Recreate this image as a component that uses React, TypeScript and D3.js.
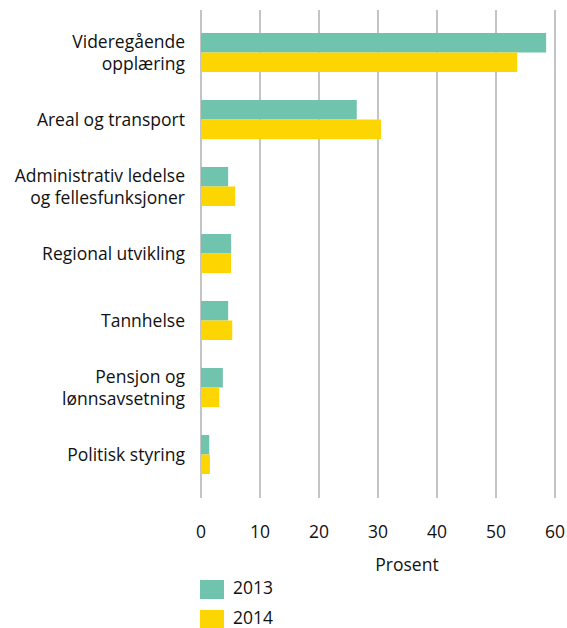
import { useEffect, useRef } from 'react'
import * as d3 from 'd3'

const categories = [
	['Videregående', 'opplæring'],
	['Areal og transport'],
	['Administrativ ledelse', 'og fellesfunksjoner'],
	['Regional utvikling'],
	['Tannhelse'],
	['Pensjon og', 'lønnsavsetning'],
	['Politisk styring'],
]
const years = ['2013', '2014']
const values2013 = [58.5, 26.4, 4.6, 5.1, 4.6, 3.7, 1.4]
const values2014 = [53.6, 30.5, 5.8, 5.1, 5.3, 3.1, 1.5]
const xTicks = [0, 10, 20, 30, 40, 50, 60]
const colors = ['#70c3ad', '#fdd500']

const App = () => {
	const svgRef = useRef(null)

	useEffect(() => {
		const width = 567
		const height = 628
		const font = '"Open Sans", sans-serif'
		const fs = 17.5

		d3.select(svgRef.current).selectAll('*').remove()
		const svg = d3.select(svgRef.current).attr('width', width).attr('height', height)

		const keys = categories.map((c) => c.join(' '))
		const x = d3.scaleLinear().domain([0, 60]).range([201, 555])
		const y = d3.scaleBand().domain(keys).range([19, 488]).paddingInner(0.418).paddingOuter(0.209)
		const sub = d3.scaleBand().domain(years).range([0, y.bandwidth()])

		// Grid lines
		svg
			.append('g')
			.selectAll('line')
			.data(xTicks)
			.enter()
			.append('line')
			.attr('x1', (d) => x(d))
			.attr('x2', (d) => x(d))
			.attr('y1', 10)
			.attr('y2', 498)
			.attr('stroke', '#c4c4c4')
			.attr('stroke-width', 2)

		// Bars
		const series = [values2013, values2014]
		series.forEach((vals, si) => {
			svg
				.append('g')
				.selectAll('rect')
				.data(vals)
				.enter()
				.append('rect')
				.attr('x', x(0))
				.attr('y', (d, i) => y(keys[i]) + sub(years[si]))
				.attr('width', (d) => x(d) - x(0))
				.attr('height', sub.bandwidth())
				.attr('fill', colors[si])
		})

		// Category labels
		const labels = svg
			.append('g')
			.selectAll('text')
			.data(categories)
			.enter()
			.append('text')
			.attr('text-anchor', 'end')
			.attr('font-family', font)
			.attr('font-size', fs)
			.attr('fill', '#111')
		labels
			.selectAll('tspan')
			.data((d, i) => d.map((line, j) => ({ line, j, n: d.length, i })))
			.enter()
			.append('tspan')
			.attr('x', 185)
			.attr('y', (d) => y(keys[d.i]) + y.bandwidth() / 2 + (d.j - (d.n - 1) / 2) * 22)
			.attr('dy', '0.35em')
			.text((d) => d.line)

		// X tick labels
		svg
			.append('g')
			.selectAll('text')
			.data(xTicks)
			.enter()
			.append('text')
			.attr('x', (d) => x(d))
			.attr('y', 532)
			.attr('dy', '0.35em')
			.attr('text-anchor', 'middle')
			.attr('font-family', font)
			.attr('font-size', fs)
			.attr('fill', '#111')
			.text((d) => d)

		svg
			.append('text')
			.attr('x', 407)
			.attr('y', 565)
			.attr('dy', '0.35em')
			.attr('text-anchor', 'middle')
			.attr('font-family', font)
			.attr('font-size', fs)
			.attr('fill', '#111')
			.text('Prosent')

		// Legend
		const legend = svg
			.append('g')
			.selectAll('g')
			.data(years)
			.enter()
			.append('g')
			.attr('transform', (d, i) => `translate(200,${580 + i * 30})`)
		legend.append('rect').attr('width', 24).attr('height', 19).attr('fill', (d, i) => colors[i])
		legend
			.append('text')
			.attr('x', 33)
			.attr('y', 8)
			.attr('dy', '0.35em')
			.attr('font-family', font)
			.attr('font-size', fs)
			.attr('fill', '#111')
			.text((d) => d)
	}, [])

	return <svg ref={svgRef} style={{ position: 'absolute', left: 0, top: 0 }}></svg>
}

export default App
